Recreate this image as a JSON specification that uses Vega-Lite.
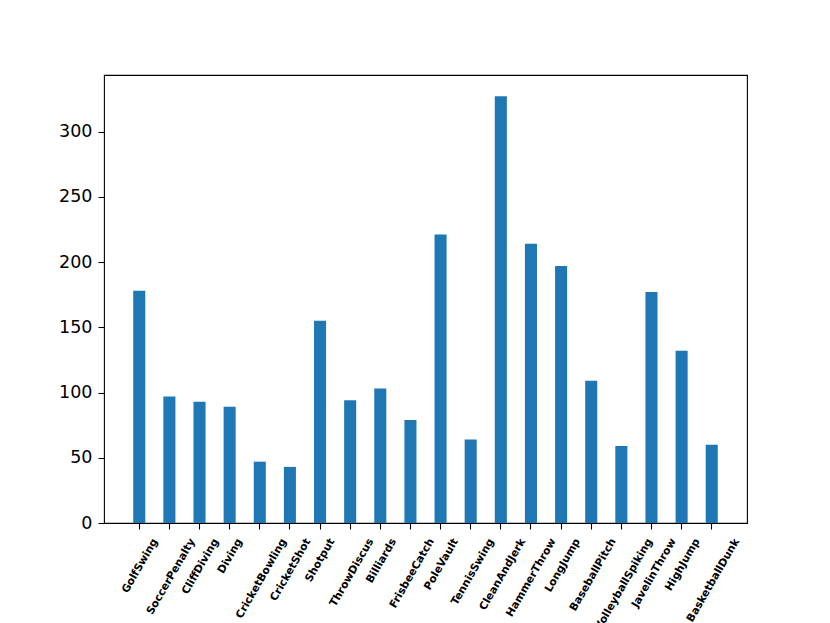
{
  "$schema": "https://vega.github.io/schema/vega-lite/v6.json",
  "autosize": {"type": "none"},
  "padding": {"left": 104, "top": 75, "right": 83, "bottom": 100},
  "width": 643,
  "height": 448,
  "background": "white",
  "config": {
    "view": {"stroke": "black", "strokeWidth": 1.1},
    "axis": {
      "labelFont": "DejaVu Sans",
      "labelColor": "black",
      "tickColor": "black",
      "tickWidth": 1.1,
      "tickSize": 6,
      "domain": false,
      "grid": false,
      "title": null
    }
  },
  "data": {
    "values": [
      {"sport": "GolfSwing", "count": 178},
      {"sport": "SoccerPenalty", "count": 97},
      {"sport": "CliffDiving", "count": 93},
      {"sport": "Diving", "count": 89},
      {"sport": "CricketBowling", "count": 47},
      {"sport": "CricketShot", "count": 43},
      {"sport": "Shotput", "count": 155},
      {"sport": "ThrowDiscus", "count": 94},
      {"sport": "Billiards", "count": 103},
      {"sport": "FrisbeeCatch", "count": 79},
      {"sport": "PoleVault", "count": 221},
      {"sport": "TennisSwing", "count": 64},
      {"sport": "CleanAndJerk", "count": 327},
      {"sport": "HammerThrow", "count": 214},
      {"sport": "LongJump", "count": 197},
      {"sport": "BaseballPitch", "count": 109},
      {"sport": "VolleyballSpiking", "count": 59},
      {"sport": "JavelinThrow", "count": 177},
      {"sport": "HighJump", "count": 132},
      {"sport": "BasketballDunk", "count": 60}
    ]
  },
  "encoding": {
    "x": {
      "field": "sport",
      "type": "nominal",
      "sort": null,
      "scale": {"paddingInner": 0.6, "paddingOuter": 0.97},
      "axis": {"labels": false}
    }
  },
  "layer": [
    {
      "mark": {"type": "bar", "color": "#1f77b4"},
      "encoding": {
        "y": {
          "field": "count",
          "type": "quantitative",
          "scale": {"domain": [0, 343.3], "nice": false, "zero": true},
          "axis": {
            "values": [0, 50, 100, 150, 200, 250, 300],
            "labelFontSize": 17.5,
            "labelPadding": 6
          }
        }
      }
    },
    {
      "mark": {
        "type": "text",
        "font": "DejaVu Sans",
        "fontWeight": "bold",
        "fontSize": 10.7,
        "color": "black",
        "angle": 300,
        "align": "right",
        "baseline": "middle",
        "dx": {"expr": "(0.74 * length(datum.sport) - 0.32 * (length(datum.sport) - length(replace(datum.sport, regexp('[iljtfr]', 'g'), ''))) + 0.3 * (length(datum.sport) - length(replace(datum.sport, regexp('[mwMW]', 'g'), '')))) * 10.7 / 8 - 14.29"},
        "dy": {"expr": "(0.74 * length(datum.sport) - 0.32 * (length(datum.sport) - length(replace(datum.sport, regexp('[iljtfr]', 'g'), ''))) + 0.3 * (length(datum.sport) - length(replace(datum.sport, regexp('[mwMW]', 'g'), '')))) * 10.7 * 0.2165 + 8.25"}
      },
      "encoding": {
        "y": {"datum": 0, "type": "quantitative"},
        "text": {"field": "sport"}
      }
    }
  ]
}
